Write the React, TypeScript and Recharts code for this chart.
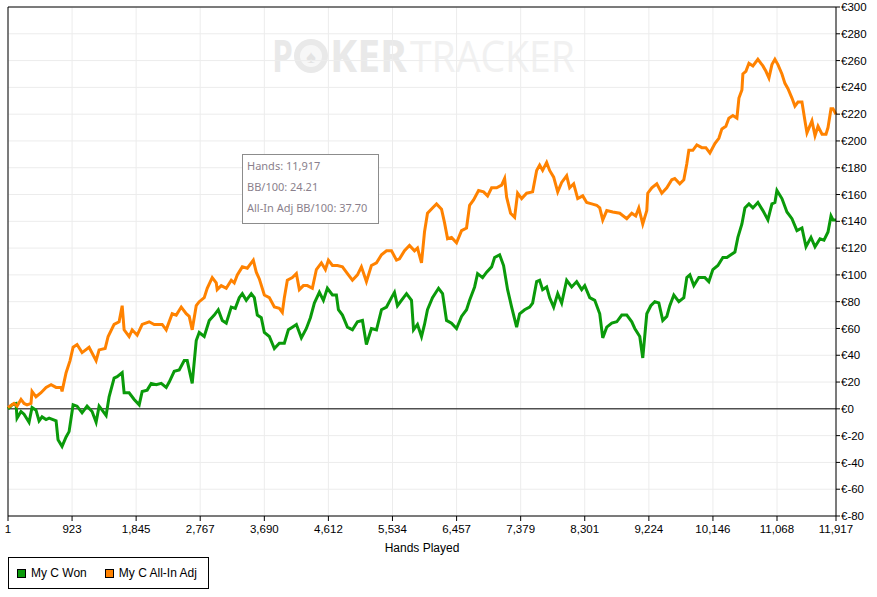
import React from "react"
import {
  CartesianGrid,
  Line,
  LineChart,
  ReferenceLine,
  XAxis,
  YAxis
} from "recharts"

const wonHands = [
  1, 59, 116, 131, 188, 232, 304, 347, 404, 448, 491, 549, 592, 693, 721, 779,
  837, 880, 938, 995, 1067, 1139, 1211, 1269, 1312, 1356, 1413, 1456, 1528,
  1572, 1644, 1672, 1744, 1817, 1889, 1932, 2004, 2062, 2134, 2206, 2278, 2321,
  2393, 2465, 2537, 2580, 2652, 2710, 2753, 2825, 2897, 2969, 3027, 3085, 3142,
  3214, 3272, 3329, 3373, 3430, 3502, 3546, 3589, 3646, 3690, 3762, 3834, 3906,
  3978, 4036, 4093, 4151, 4223, 4295, 4353, 4410, 4482, 4540, 4597, 4670, 4727,
  4756, 4814, 4886, 4958, 5030, 5102, 5159, 5231, 5304, 5376, 5448, 5520, 5563,
  5606, 5635, 5736, 5808, 5837, 5894, 5952, 5995, 6038, 6110, 6197, 6255, 6312,
  6384, 6456, 6528, 6600, 6644, 6716, 6759, 6831, 6889, 6961, 7004, 7076, 7133,
  7191, 7249, 7321, 7364, 7436, 7508, 7551, 7609, 7652, 7695, 7753, 7796, 7854,
  7912, 7969, 8041, 8113, 8185, 8257, 8301, 8373, 8445, 8517, 8560, 8618, 8690,
  8762, 8834, 8906, 8978, 9021, 9093, 9136, 9194, 9252, 9309, 9367, 9424, 9482,
  9525, 9583, 9655, 9727, 9770, 9814, 9871, 9943, 10030, 10087, 10145, 10217,
  10289, 10347, 10404, 10462, 10505, 10563, 10606, 10664, 10721, 10793, 10865,
  10937, 10995, 11038, 11067, 11139, 11211, 11283, 11355, 11427, 11485, 11557,
  11615, 11687, 11744, 11802, 11845, 11874, 11917
]

// My C Won, euros
const wonValues = [
  0, 3, 4, -7, -2, -4, -10, 1, -1, -9, -6, -8, -7, -9, -23, -28, -21, -17, 3, 2,
  -3, 2, -2, -10, 2, -1, -5, 9, 23, 24, 27, 12, 12, 7, 3, 13, 14, 19, 18, 19, 16,
  20, 28, 29, 36, 36, 19, 51, 57, 54, 66, 70, 74, 66, 64, 76, 75, 83, 86, 81, 86,
  83, 70, 68, 57, 54, 45, 49, 49, 59, 61, 63, 53, 60, 68, 79, 87, 81, 90, 85, 85,
  74, 70, 61, 59, 65, 66, 48, 60, 59, 74, 76, 83, 87, 77, 79, 86, 81, 59, 63, 54,
  63, 74, 83, 90, 86, 66, 64, 60, 69, 74, 81, 91, 101, 98, 102, 106, 113, 115,
  107, 89, 76, 61, 71, 74, 76, 79, 95, 96, 89, 91, 83, 76, 86, 79, 96, 91, 95, 89,
  92, 83, 81, 71, 53, 61, 64, 65, 70, 70, 65, 60, 54, 38, 71, 77, 80, 79, 66, 69,
  77, 85, 80, 83, 98, 100, 92, 98, 98, 95, 104, 107, 113, 113, 115, 117, 128, 138,
  150, 153, 150, 154, 148, 141, 153, 154, 163, 157, 147, 142, 133, 135, 121, 128,
  121, 127, 126, 132, 144, 141, 141
]

const adjHands = [
  1, 87, 131, 188, 232, 275, 332, 347, 404, 476, 549, 621, 693, 765, 779, 837,
  894, 938, 995, 1067, 1168, 1269, 1312, 1399, 1442, 1528, 1600, 1644, 1672,
  1744, 1788, 1860, 1932, 2033, 2105, 2177, 2220, 2278, 2292, 2364, 2422, 2494,
  2566, 2609, 2652, 2710, 2753, 2825, 2868, 2940, 2998, 3012, 3070, 3142, 3214,
  3257, 3301, 3373, 3445, 3502, 3531, 3574, 3618, 3690, 3762, 3834, 3906, 3949,
  3978, 4021, 4093, 4151, 4194, 4252, 4309, 4381, 4439, 4511, 4569, 4612, 4670,
  4742, 4814, 4886, 4958, 5030, 5087, 5159, 5231, 5304, 5376, 5448, 5520, 5592,
  5635, 5707, 5779, 5851, 5894, 5952, 5995, 6038, 6110, 6168, 6240, 6283, 6327,
  6384, 6456, 6528, 6600, 6644, 6701, 6773, 6845, 6903, 6961, 7033, 7105, 7148,
  7177, 7234, 7292, 7335, 7393, 7465, 7551, 7609, 7652, 7695, 7753, 7796, 7854,
  7912, 7969, 8041, 8084, 8142, 8200, 8272, 8329, 8401, 8473, 8517, 8560, 8618,
  8704, 8805, 8906, 8978, 9035, 9079, 9136, 9194, 9208, 9266, 9338, 9410, 9482,
  9554, 9597, 9669, 9727, 9770, 9799, 9857, 9914, 9986, 10044, 10102, 10174,
  10231, 10275, 10332, 10375, 10433, 10491, 10520, 10563, 10577, 10620, 10664,
  10721, 10793, 10865, 10909, 10952, 10995, 11038, 11081, 11139, 11182, 11226,
  11283, 11326, 11370, 11427, 11470, 11499, 11571, 11615, 11658, 11716, 11773,
  11802, 11845, 11874, 11917
]

// My C All-In Adj, euros
const adjValues = [
  1, 4, 2, 7, 4, 3, 4, 13, 9, 12, 16, 18, 16, 16, 13, 27, 36, 46, 48, 42, 46, 36,
  44, 45, 54, 63, 65, 77, 59, 54, 59, 55, 63, 65, 63, 63, 63, 59, 61, 71, 70, 76,
  71, 69, 59, 77, 80, 83, 90, 98, 94, 89, 92, 90, 96, 94, 100, 106, 105, 109, 111,
  102, 97, 85, 83, 76, 75, 72, 83, 96, 98, 101, 89, 92, 92, 90, 104, 109, 104, 111,
  107, 107, 106, 101, 96, 100, 106, 95, 107, 109, 115, 118, 118, 111, 112, 118,
  122, 118, 120, 109, 132, 146, 150, 153, 149, 139, 127, 128, 124, 133, 135, 152,
  156, 163, 162, 159, 165, 165, 167, 172, 158, 146, 143, 161, 157, 161, 162, 178,
  182, 178, 184, 178, 173, 162, 169, 174, 165, 168, 157, 159, 154, 153, 152, 150,
  141, 148, 147, 146, 142, 146, 144, 150, 138, 148, 161, 165, 168, 161, 165, 171,
  172, 168, 171, 183, 193, 193, 197, 195, 195, 191, 198, 202, 209, 211, 217, 219,
  217, 232, 238, 250, 252, 258, 256, 261, 256, 252, 247, 257, 261, 257, 250, 243,
  239, 232, 226, 229, 229, 215, 206, 215, 204, 211, 205, 205, 210, 224, 224, 220
]

const handTicks = [
  1, 923, 1845, 2767, 3690, 4612, 5534, 6457, 7379, 8301, 9224, 10146, 11068,
  11917
]
const euroTicks = [
  -80, -60, -40, -20, 0, 20, 40, 60, 80, 100, 120, 140, 160, 180, 200, 220, 240,
  260, 280, 300
]

const summaryLines = ["Hands: 11,917", "BB/100: 24.21", "All-In Adj BB/100: 37.70"]

const GREEN = "#0a9a0a"
const ORANGE = "#ff8200"
const FONT = "Liberation Sans, Arial, sans-serif"
const tickFont = { fontSize: 11.5, fill: "#000", fontFamily: FONT }

const wonData = wonHands.map((h, i) => ({ hands: h, value: wonValues[i] }))
const adjData = adjHands.map((h, i) => ({ hands: h, value: adjValues[i] }))

function Watermark() {
  return (
    <svg
      width={877}
      height={100}
      style={{ position: "absolute", left: 0, top: 0, pointerEvents: "none" }}
    >
      <text x={272} y={72} fontSize={44} fontWeight="bold" fill="#e9e9e9" fontFamily="Open Sans, sans-serif" textLength={21} lengthAdjust="spacingAndGlyphs">
        P
      </text>
      <circle cx={311} cy={56} r={17} fill="#e9e9e9" />
      <circle cx={311} cy={56} r={11} fill="#f7f7f7" />
      <text x={311} y={63} fontSize={18} textAnchor="middle" fill="#e3e3e3">
        ♠
      </text>
      <text x={330} y={72} fontSize={44} fontWeight="bold" fill="#e9e9e9" fontFamily="Open Sans, sans-serif" textLength={77} lengthAdjust="spacingAndGlyphs">
        KER
      </text>
      <text x={410} y={72} fontSize={44} fill="#f1f1f1" fontFamily="Open Sans, sans-serif" textLength={165} lengthAdjust="spacingAndGlyphs">
        TRACKER
      </text>
    </svg>
  )
}

function Summary() {
  return (
    <div
      style={{
        position: "absolute",
        left: 242,
        top: 154,
        width: 135,
        height: 68,
        border: "1px solid #8c8c8c",
        background: "#fff",
        fontFamily: "Noto Sans, sans-serif",
        fontSize: 11,
        color: "#8a7f8c"
      }}
    >
      {summaryLines.map((line, i) => (
        <div key={line} style={{ position: "absolute", left: 4, top: 3 + i * 21, lineHeight: "16px" }}>
          {line}
        </div>
      ))}
    </div>
  )
}

function LegendBox() {
  const items = [
    { label: "My C Won", color: GREEN },
    { label: "My C All-In Adj", color: ORANGE }
  ]
  return (
    <div
      style={{
        position: "absolute",
        left: 8,
        top: 557,
        width: 199,
        height: 30,
        border: "1px solid #000",
        background: "#fff",
        fontFamily: FONT,
        fontSize: 12,
        display: "flex",
        alignItems: "center"
      }}
    >
      {items.map((it, i) => (
        <div key={it.label} style={{ display: "flex", alignItems: "center", marginLeft: i === 0 ? 8 : 18 }}>
          <span
            style={{
              display: "inline-block",
              width: 7,
              height: 7,
              background: it.color,
              border: "1px solid #000",
              marginRight: 5
            }}
          />
          <span>{it.label}</span>
        </div>
      ))}
    </div>
  )
}

export default function App() {
  return (
    <div style={{ position: "fixed", left: 0, top: 0, width: 877, height: 597, background: "#fff" }}>
      <Watermark />
      <div style={{ position: "absolute", left: 0, top: 0 }}>
        <LineChart
          width={877}
          height={597}
          margin={{ top: 7, right: 0, left: 8, bottom: 41 }}
        >
          <CartesianGrid stroke="#ececec" strokeWidth={1} fill="none" />
          <XAxis
            dataKey="hands"
            type="number"
            domain={[1, 11917]}
            ticks={handTicks}
            interval={0}
            tickFormatter={(v: number) => v.toLocaleString("en-US")}
            tick={tickFont}
            tickSize={5}
            tickMargin={4}
            stroke="#000"
            height={40}
            allowDuplicatedCategory={false}
            label={{
              value: "Hands Played",
              position: "insideBottom",
              offset: 4,
              style: { fontSize: 12, fill: "#000", fontFamily: FONT }
            }}
          />
          <YAxis
            orientation="right"
            type="number"
            domain={[-80, 300]}
            ticks={euroTicks}
            interval={0}
            tickFormatter={(v: number) => `€${v}`}
            tick={tickFont}
            tickSize={4}
            tickMargin={1}
            stroke="#000"
            width={41}
          />
          <ReferenceLine y={300} stroke="#000" />
          <ReferenceLine x={1} stroke="#000" />
          <ReferenceLine y={0} stroke="#000" />
          <Line
            data={wonData}
            dataKey="value"
            name="My C Won"
            type="linear"
            stroke={GREEN}
            strokeWidth={3}
            dot={false}
            isAnimationActive={false}
          />
          <Line
            data={adjData}
            dataKey="value"
            name="My C All-In Adj"
            type="linear"
            stroke={ORANGE}
            strokeWidth={3}
            dot={false}
            isAnimationActive={false}
          />
        </LineChart>
      </div>
      <Summary />
      <LegendBox />
    </div>
  )
}
